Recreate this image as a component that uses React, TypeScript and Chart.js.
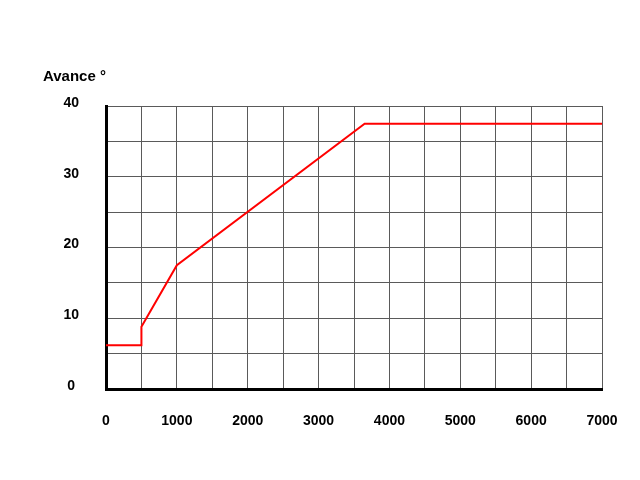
import React, { useEffect, useRef } from "react";
import { Chart, registerables } from "chart.js";

Chart.register(...registerables);

const rpm = [0, 500, 500, 1000, 3650, 7000];
const advance = [6.2, 6.2, 8.8, 17.5, 37.5, 37.5];
const yTitle = "Avance °";
const xMin = 0;
const xMax = 7000;
const yMin = 0;
const yMax = 40;

const FONT = "'Liberation Sans', Arial, sans-serif";

const titlePlugin = {
  id: "cornerTitle",
  afterDraw(chart: any) {
    const ctx = chart.ctx;
    ctx.save();
    ctx.font = `bold 15px ${FONT}`;
    ctx.fillStyle = "#000";
    ctx.textAlign = "left";
    ctx.textBaseline = "middle";
    ctx.fillText(yTitle, 43, 77);
    ctx.restore();
  },
};

export default function App() {
  const ref = useRef<HTMLCanvasElement | null>(null);
  useEffect(() => {
    if (!ref.current) return;
    const chart = new Chart(ref.current, {
      type: "line",
      data: {
        datasets: [
          {
            data: rpm.map((x, i) => ({ x, y: advance[i] })),
            borderColor: "#ff0000",
            borderWidth: 2,
            pointRadius: 0,
            tension: 0,
            fill: false,
          },
        ],
      },
      options: {
        animation: false,
        responsive: false,
        maintainAspectRatio: false,
        layout: { padding: { left: 0, top: 106, right: 38, bottom: 0 } },
        plugins: {
          legend: { display: false },
          tooltip: { enabled: false },
          title: { display: false },
        },
        scales: {
          x: {
            type: "linear",
            min: xMin,
            max: xMax,
            afterFit: (s: any) => {
              s.height = 91;
              s.paddingRight = 0;
              s.paddingLeft = 0;
            },
            border: { color: "#000", width: 3 },
            grid: { color: "#5a5a5a", lineWidth: 1, drawTicks: false },
            ticks: {
              stepSize: 500,
              autoSkip: false,
              maxRotation: 0,
              padding: 24,
              color: "#000",
              font: { family: FONT, size: 14, weight: "bold" },
              callback: (v: any) => (Number(v) % 1000 === 0 ? String(v) : ""),
            },
          },
          y: {
            type: "linear",
            min: yMin,
            max: yMax,
            afterFit: (s: any) => {
              s.width = 106;
              s.paddingTop = 0;
              s.paddingBottom = 0;
            },
            border: { color: "#000", width: 3 },
            grid: { color: "#5a5a5a", lineWidth: 1, drawTicks: false },
            ticks: {
              stepSize: 5,
              autoSkip: false,
              padding: 27,
              crossAlign: "center",
              labelOffset: -3,
              color: "#000",
              font: { family: FONT, size: 14, weight: "bold" },
              callback: (v: any) => (Number(v) % 10 === 0 ? String(v) : ""),
            },
          },
        },
      },
      plugins: [titlePlugin],
    });
    return () => chart.destroy();
  }, []);
  return (
    <div style={{ position: "fixed", left: 0, top: 0, width: 640, height: 480, background: "#fff" }}>
      <canvas ref={ref} width={640} height={480} style={{ width: 640, height: 480 }} />
    </div>
  );
}
